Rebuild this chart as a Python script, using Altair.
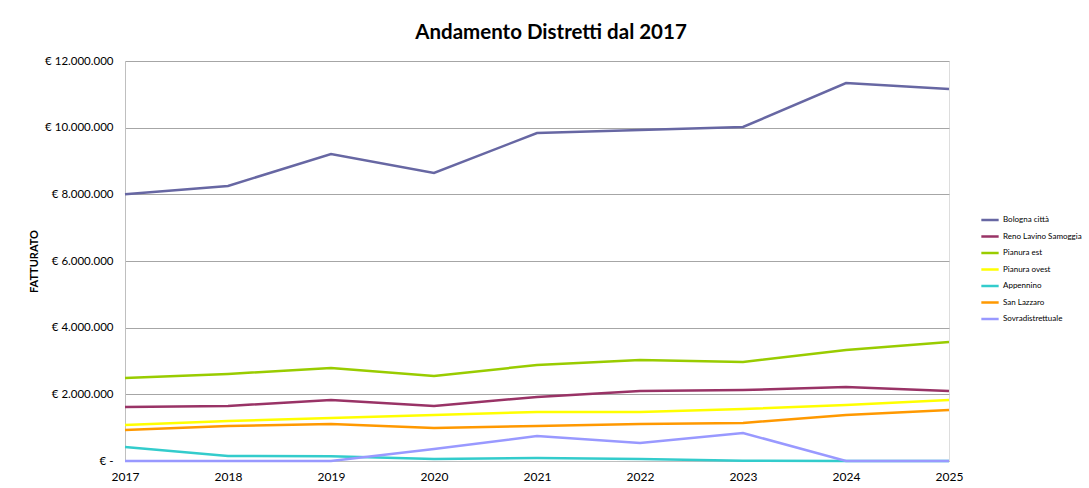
import altair as alt
import pandas as pd

years = [2017, 2018, 2019, 2020, 2021, 2022, 2023, 2024, 2025]
series_names = ["Bologna città", "Reno Lavino Samoggia", "Pianura est", "Pianura ovest",
                "Appennino", "San Lazzaro", "Sovradistrettuale"]
bologna = [8000000, 8250000, 9210000, 8640000, 9840000, 9930000, 10020000, 11340000, 11160000]
reno = [1620000, 1650000, 1830000, 1650000, 1920000, 2100000, 2130000, 2220000, 2100000]
pianura_est = [2490000, 2610000, 2790000, 2550000, 2880000, 3030000, 2970000, 3330000, 3570000]
pianura_ovest = [1080000, 1200000, 1290000, 1380000, 1470000, 1470000, 1560000, 1680000, 1830000]
appennino = [420000, 150000, 140000, 60000, 90000, 60000, 10000, 0, 0]
san_lazzaro = [930000, 1050000, 1110000, 990000, 1050000, 1110000, 1140000, 1380000, 1530000]
sovra = [0, 0, 0, 360000, 750000, 540000, 840000, 0, 0]
colors = ["#6767A3", "#993366", "#99CC00", "#FFFF00", "#33CCCC", "#FF9900", "#9999FF"]

all_series = [bologna, reno, pianura_est, pianura_ovest, appennino, san_lazzaro, sovra]
rows = []
for name, vals in zip(series_names, all_series):
    for y, v in zip(years, vals):
        rows.append({"Anno": y, "Distretto": name, "Fatturato": v})
df = pd.DataFrame(rows)

label_expr = ("datum.value == 0 ? '€ -' : '€ ' + replace(replace(replace(format(datum.value, ',.0f'), ',', '.'), ',', '.'), ',', '.')")

chart = alt.Chart(df).mark_line(strokeWidth=2.5).encode(
    x=alt.X("Anno:Q", scale=alt.Scale(domain=[2017, 2025], nice=False, zero=False),
            axis=alt.Axis(values=years, format="d", title=None, grid=False, ticks=False,
                          labelFont="Lato", labelFontSize=12, labelColor="#000000",
                          labelPadding=10, domainColor="#BFBFBF",
                          labelFlush=False)),
    y=alt.Y("Fatturato:Q", scale=alt.Scale(domain=[0, 12000000], nice=False),
            axis=alt.Axis(values=[0, 2000000, 4000000, 6000000, 8000000, 10000000, 12000000],
                          labelExpr=label_expr, title="FATTURATO", titleFont="Lato",
                          titleFontSize=11, titleFontWeight="bold", titleColor="#000000",
                          titlePadding=5,
                          labelFont="Lato", labelFontSize=11.5, labelColor="#000000",
                          labelPadding=12, ticks=False, gridColor="#A6A6A6",
                          domainColor="#BFBFBF")),
    color=alt.Color("Distretto:N", scale=alt.Scale(domain=series_names, range=colors),
                    sort=series_names,
                    legend=alt.Legend(title=None, orient="none", legendX=855, legendY=149,
                                      symbolType="stroke", symbolStrokeWidth=2.5,
                                      symbolSize=300, labelFont="Lato", labelFontSize=8,
                                      labelColor="#000000", rowPadding=1.5, labelOffset=3)),
).properties(
    width=824, height=400,
    title=alt.TitleParams("Andamento Distretti dal 2017", font="Lato", fontSize=20.5,
                          fontWeight="bold", color="#000000", anchor="middle", dx=14, offset=12),
    autosize=alt.AutoSizeParams(type="none"),
    padding={"left": 125, "top": 61, "right": 140, "bottom": 27},
).configure_view(stroke=None).configure(background="#FFFFFF")

chart.save("out.html", embed_options={"renderer": "svg", "actions": False})
